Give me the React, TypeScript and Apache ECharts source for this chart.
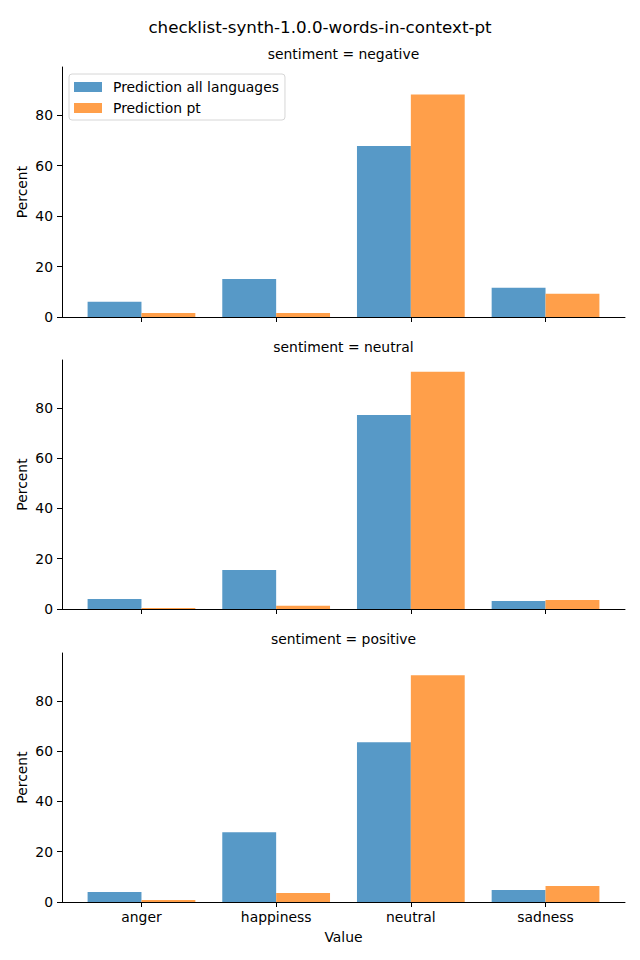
import React, { useEffect, useRef } from "react";
import * as echarts from "echarts";

const categories = ["anger", "happiness", "neutral", "sadness"];
const panelTitles = ["sentiment = negative", "sentiment = neutral", "sentiment = positive"];
const seriesNames = ["Prediction all languages", "Prediction pt"];
const yTicks = [0, 20, 40, 60, 80];

const allLangNegative = [6.0, 15.1, 67.8, 11.6];
const ptNegative = [1.6, 1.6, 88.2, 9.2];
const allLangNeutral = [4.0, 15.5, 77.2, 3.2];
const ptNeutral = [0.4, 1.3, 94.4, 3.6];
const allLangPositive = [4.0, 27.8, 63.6, 4.8];
const ptPositive = [0.8, 3.6, 90.2, 6.4];

const allLang = [allLangNegative, allLangNeutral, allLangPositive];
const pt = [ptNegative, ptNeutral, ptPositive];

const FONT = "DejaVu Sans";
const BLUE = "#5799c7";
const ORANGE = "#ff9f4a";

export default function App() {
  const ref = useRef<HTMLDivElement>(null);
  useEffect(() => {
    document.body.style.margin = "0";
    const chart = echarts.init(ref.current!, null, { renderer: "svg" });
    const tops = [67, 360, 653];
    const heights = [250, 249, 249];
    const grids = tops.map((t, i) => ({ left: 62, width: 563, top: t, height: heights[i] }));
    const xAxes = tops.map((_, i) => ({
      type: "value",
      gridIndex: i,
      min: -0.59,
      max: 3.59,
      splitLine: { show: false },
      axisLine: { show: true, onZero: false, lineStyle: { color: "#000", width: 1 } },
      axisTick: { show: true, customValues: [0, 1, 2, 3], length: 5, lineStyle: { color: "#000" } },
      axisLabel: {
        show: i === 2,
        customValues: [0, 1, 2, 3],
        formatter: (v: number) => categories[Math.round(v)] ?? "",
        color: "#000",
        fontFamily: FONT,
        fontSize: 13.9,
        margin: 8,
      },
      name: i === 2 ? "Value" : "",
      nameLocation: "middle",
      nameGap: 28,
      nameTextStyle: { color: "#000", fontFamily: FONT, fontSize: 13.9 },
    }));
    const yAxes = tops.map((_, i) => ({
      type: "value",
      gridIndex: i,
      min: 0,
      max: 99.1,
      splitLine: { show: false },
      axisLine: { show: true, onZero: false, lineStyle: { color: "#000", width: 1 } },
      axisTick: { show: true, customValues: yTicks, length: 5, lineStyle: { color: "#000" } },
      axisLabel: {
        customValues: yTicks,
        color: "#000",
        fontFamily: FONT,
        fontSize: 13.9,
        margin: 9,
      },
      name: "Percent",
      nameLocation: "middle",
      nameGap: 33,
      nameMoveOverlap: false,
      nameTextStyle: { color: "#000", fontFamily: FONT, fontSize: 13.9 },
    }));
    const series: any[] = [];
    tops.forEach((_, i) => {
      [allLang[i], pt[i]].forEach((vals, k) => {
        series.push({
          type: "bar",
          name: seriesNames[k],
          xAxisIndex: i,
          yAxisIndex: i,
          barWidth: "40%",
          barGap: "0%",
          itemStyle: { color: k === 0 ? BLUE : ORANGE },
          data: categories.map((_, j) => [j, vals[j]]),
        });
      });
    });
    const titleY = [54, 347, 639];
    chart.setOption({
      animation: false,
      textStyle: { fontFamily: FONT },
      grid: grids,
      xAxis: xAxes,
      yAxis: yAxes,
      series,
      legend: {
        orient: "vertical",
        left: 69,
        top: 74,
        data: seriesNames,
        icon: "rect",
        itemWidth: 28,
        itemHeight: 10,
        itemGap: 7,
        padding: [6, 6, 5, 5],
        backgroundColor: "#fff",
        borderColor: "#d6d6d6",
        borderWidth: 1,
        borderRadius: 3,
        textStyle: { color: "#000", fontFamily: FONT, fontSize: 13.9, padding: [0, 0, 0, 6] },
      },
      graphic: [
        {
          type: "text",
          x: 320,
          y: 27,
          style: {
            text: "checklist-synth-1.0.0-words-in-context-pt",
            fill: "#000",
            font: `16.7px "${FONT}"`,
            textAlign: "center",
            textVerticalAlign: "middle",
          },
        },
        ...panelTitles.map((t, i) => ({
          type: "text",
          x: 343.5,
          y: titleY[i],
          style: {
            text: t,
            fill: "#000",
            font: `13.9px "${FONT}"`,
            textAlign: "center",
            textVerticalAlign: "middle",
          },
        })),
      ],
    });
    return () => chart.dispose();
  }, []);
  return <div ref={ref} style={{ width: 640, height: 960 }} />;
}
